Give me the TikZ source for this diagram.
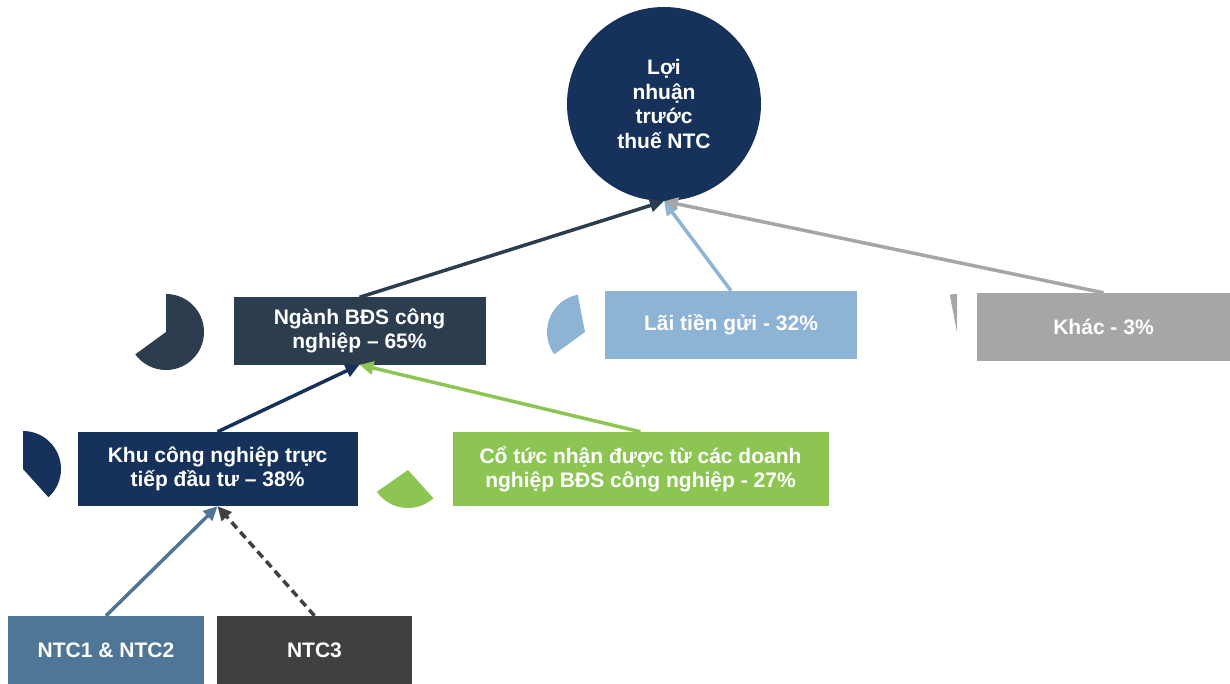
\documentclass[tikz,border=0pt]{standalone}
\usepackage{fontspec}
\setmainfont{Liberation Sans}
\usetikzlibrary{arrows.meta}
\definecolor{navy}{HTML}{17325A}
\definecolor{slate}{HTML}{2B3D4F}
\definecolor{skyblue}{HTML}{8DB3D5}
\definecolor{midgray}{HTML}{A6A6A6}
\definecolor{leafgreen}{HTML}{8DC553}
\definecolor{steel}{HTML}{4F7597}
\definecolor{charcoal}{HTML}{404040}
\begin{document}
\begin{tikzpicture}[x=1pt,y=1pt,
    box/.style={fill=#1, text=white, align=center, inner sep=0pt,
      font=\bfseries\fontsize{21}{24.5}\selectfont},
    link/.style={draw=#1, line width=3.5pt, -{Triangle[length=14pt,width=13pt]}}]
  \useasboundingbox (0,0) rectangle (1230,-684);
  \draw
    (664,-104) node[box=navy, circle, minimum size=194pt] (ln){Lợi\\nhuận\\trước\\thuế NTC}
    (359.5,-331) node[box=slate, minimum width=252pt, minimum height=67pt] (bds){Ngành BĐS công\\nghiệp – 65\%}
    (731,-325) node[box=skyblue, minimum width=252pt, minimum height=68pt] (lai){Lãi tiền gửi - 32\%}
    (1103.5,-327) node[box=midgray, minimum width=253pt, minimum height=68pt] (khac){Khác - 3\%}
    (217.5,-469) node[box=navy, minimum width=280pt, minimum height=74pt] (kcn){Khu công nghiệp trực\\tiếp đầu tư – 38\%}
    (640.5,-469) node[box=leafgreen, minimum width=376pt, minimum height=74pt] (cotuc){Cổ tức nhận được từ các doanh\\nghiệp BĐS công nghiệp - 27\%}
    (106,-650) node[box=steel, minimum width=196pt, minimum height=68pt] (ntc12){NTC1 \& NTC2}
    (314.5,-650) node[box=charcoal, minimum width=195pt, minimum height=68pt] (ntc3){NTC3};
  % pie slices
  \fill[slate] (166,-332) -- ++(90:38) arc[start angle=90, end angle=-144, radius=38] -- cycle;
  \fill[skyblue] (585,-332) -- ++(101:38) arc[start angle=101, end angle=216, radius=38] -- cycle;
  \fill[midgray] (957,-332) -- ++(90:38) arc[start angle=90, end angle=101, radius=38] -- cycle;
  \fill[navy] (23,-469) -- ++(90:38) arc[start angle=90, end angle=-48, radius=38] -- cycle;
  \fill[leafgreen] (408,-470) -- ++(-48:38) arc[start angle=-48, end angle=-145, radius=38] -- cycle;
  \begin{scope}[-]
    \draw[link=slate] (bds.north) to (ln.south);
    \draw[link=skyblue] (lai.north) to (ln.south);
    \draw[link=midgray] (khac.north) to (ln.south);
    \draw[link=navy] (kcn.north) to (bds.south);
    \draw[link=leafgreen] (cotuc.north) to (bds.south);
    \draw[link=steel] (ntc12.north) to (kcn.south);
    \draw[link=charcoal, dash pattern=on 8pt off 5pt] (ntc3.north) to (kcn.south);
  \end{scope}
\end{tikzpicture}
\end{document}
